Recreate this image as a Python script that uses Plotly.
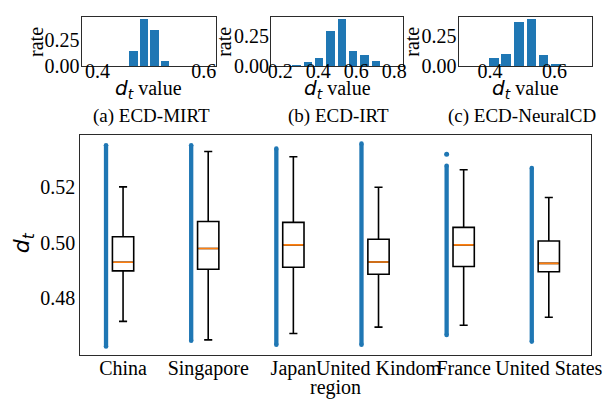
import plotly.graph_objects as go

# ---------------- data ----------------
regions = ["China", "Singapore", "Japan", "United Kindom", "France", "United States"]
box_q1 = [0.4899, 0.4905, 0.4912, 0.4887, 0.4915, 0.4896]
box_median = [0.4930, 0.4980, 0.4993, 0.4931, 0.4993, 0.4926]
box_q3 = [0.5022, 0.5077, 0.5074, 0.5013, 0.5056, 0.5007]
whisker_low = [0.4717, 0.4650, 0.4673, 0.4696, 0.4703, 0.4732]
whisker_high = [0.5202, 0.5330, 0.5311, 0.5201, 0.5264, 0.5164]
strip_low = [0.4626, 0.4647, 0.4633, 0.4633, 0.4668, 0.4644]
strip_high = [0.5352, 0.5352, 0.5340, 0.5358, 0.5278, 0.5270]
extra_region = ["France"]
extra_value = [0.5320]
main_yticks = [0.48, 0.50, 0.52]

mirt_bins = [0.4677, 0.4874, 0.5070, 0.5268]
mirt_rate = [0.140, 0.452, 0.349, 0.044]
irt_bins = [0.286, 0.346, 0.405, 0.464, 0.524, 0.584, 0.643, 0.703]
irt_rate = [0.005, 0.028, 0.062, 0.284, 0.383, 0.122, 0.090, 0.042]
ncd_bins = [0.411, 0.449, 0.488, 0.528, 0.565, 0.604]
ncd_rate = [0.062, 0.103, 0.365, 0.391, 0.095, 0.012]

hist_xticks = [[0.4, 0.6], [0.2, 0.4, 0.6, 0.8], [0.4, 0.6]]
hist_yticks = [0.0, 0.25]
captions = ["(a) ECD-MIRT", "(b) ECD-IRT", "(c) ECD-NeuralCD"]

# ---------------- style ----------------
W, H = 611, 411
SERIF = "Liberation Serif"
BLUE = "#1f77b4"
ORANGE = "#ff7f0e"
FRAME = "#2b2b2b"


def px(x):
    return x / W


def py(y):
    return 1 - y / H


fig = go.Figure()

positions = list(range(1, len(regions) + 1))
BOX_W = 0.25
STRIP_OFF = 0.2

# strips of raw points
for i, p in enumerate(positions):
    fig.add_trace(go.Scatter(
        x=[p - STRIP_OFF, p - STRIP_OFF], y=[strip_low[i], strip_high[i]],
        mode="lines+markers", line=dict(color=BLUE, width=4.3),
        marker=dict(color=BLUE, size=4.6), showlegend=False, hoverinfo="skip",
        xaxis="x", yaxis="y"))
for r, v in zip(extra_region, extra_value):
    p = positions[regions.index(r)]
    fig.add_trace(go.Scatter(
        x=[p - STRIP_OFF], y=[v], mode="markers",
        marker=dict(color=BLUE, size=5), showlegend=False,
        xaxis="x", yaxis="y"))

# boxes
for i, p in enumerate(positions):
    fig.add_trace(go.Box(
        x=[p], q1=[box_q1[i]], median=[box_median[i]], q3=[box_q3[i]],
        lowerfence=[whisker_low[i]], upperfence=[whisker_high[i]],
        width=BOX_W, whiskerwidth=0.38, boxpoints=False,
        line=dict(color="black", width=1.6), fillcolor="rgba(255,255,255,0)",
        showlegend=False, xaxis="x", yaxis="y"))
    fig.add_trace(go.Scatter(
        x=[p - BOX_W / 2 + 0.01, p + BOX_W / 2 - 0.01],
        y=[box_median[i], box_median[i]], mode="lines",
        line=dict(color=ORANGE, width=1.6), showlegend=False,
        xaxis="x", yaxis="y"))

# histograms
hists = [(mirt_bins, mirt_rate, 0.0196 * 0.82), (irt_bins, irt_rate, 0.0597 * 0.75),
         (ncd_bins, ncd_rate, 0.0388 * 0.76)]
for k, (b, r, w) in enumerate(hists):
    fig.add_trace(go.Bar(x=b, y=r, width=w, marker=dict(color=BLUE, line=dict(width=0)),
                         showlegend=False, xaxis=f"x{k + 2}", yaxis=f"y{k + 2}"))

tickfont = dict(family=SERIF, size=20, color="black")
axis_common = dict(showline=True, mirror=True, linecolor=FRAME, linewidth=1.3,
                   showgrid=False, zeroline=False, ticks="", tickfont=tickfont,
                   tickangle=0)

layout = dict(
    width=W, height=H, margin=dict(l=0, r=0, t=0, b=0),
    paper_bgcolor="white", plot_bgcolor="white", showlegend=False,
    bargap=0,
    xaxis=dict(domain=[px(71), px(593)], range=[0.5, 6.5], tickvals=positions,
               ticktext=regions, anchor="y", ticklabelstandoff=-6, **axis_common),
    yaxis=dict(domain=[py(357), py(130)], range=[0.4594, 0.5391], tickvals=main_yticks,
               ticktext=[f"{v:.2f}" for v in main_yticks], anchor="x", **axis_common),
)

hist_dom_x = [(72.3, 209.3), (265.7, 401.0), (457.3, 593.3)]
hist_xrange = [[0.3705, 0.623], [0.152, 0.848], [0.303, 0.715]]
hist_yrange = [[0, 0.475], [0, 0.402], [0, 0.410]]
for k in range(3):
    xa, ya = f"xaxis{k + 2}", f"yaxis{k + 2}"
    layout[xa] = dict(domain=[px(hist_dom_x[k][0]), px(hist_dom_x[k][1])],
                      range=hist_xrange[k], tickvals=hist_xticks[k],
                      ticktext=[f"{v:.1f}" for v in hist_xticks[k]],
                      anchor=f"y{k + 2}", ticklabelstandoff=-13, **axis_common)
    layout[ya] = dict(domain=[py(59.5), py(9.3)], range=hist_yrange[k],
                      tickvals=hist_yticks, ticktext=[f"{v:.2f}" for v in hist_yticks],
                      anchor=f"x{k + 2}", ticklabelstandoff=-3, **axis_common)

fig.update_layout(**layout)

ann_font = dict(family=SERIF, size=20, color="black")
DT = "<span style='font-family:DejaVu Sans'><i>d</i><sub><i>t</i></sub></span>"
annotations = []
rate_x = [26, 218, 410]
for k in range(3):
    cx = (hist_dom_x[k][0] + hist_dom_x[k][1]) / 2
    annotations.append(dict(text="rate", x=px(rate_x[k]), y=py(34.4), textangle=-90,
                            font=ann_font))
    annotations.append(dict(text=DT + " value", x=px(cx), y=py(83.5), font=ann_font))
caption_x = [144, 335, 522]
for k in range(3):
    annotations.append(dict(text=captions[k], x=px(caption_x[k]), y=py(111),
                            font=dict(family=SERIF, size=19, color="black")))
annotations.append(dict(text="region", x=px(332), y=py(390), font=ann_font))
annotations.append(dict(text=DT, x=px(13), y=py(241), textangle=-90,
                        font=dict(family=SERIF, size=22, color="black")))
for a in annotations:
    a.update(xref="paper", yref="paper", showarrow=False, xanchor="center",
             yanchor="middle")
fig.update_layout(annotations=annotations)

fig.write_html("out.html")
